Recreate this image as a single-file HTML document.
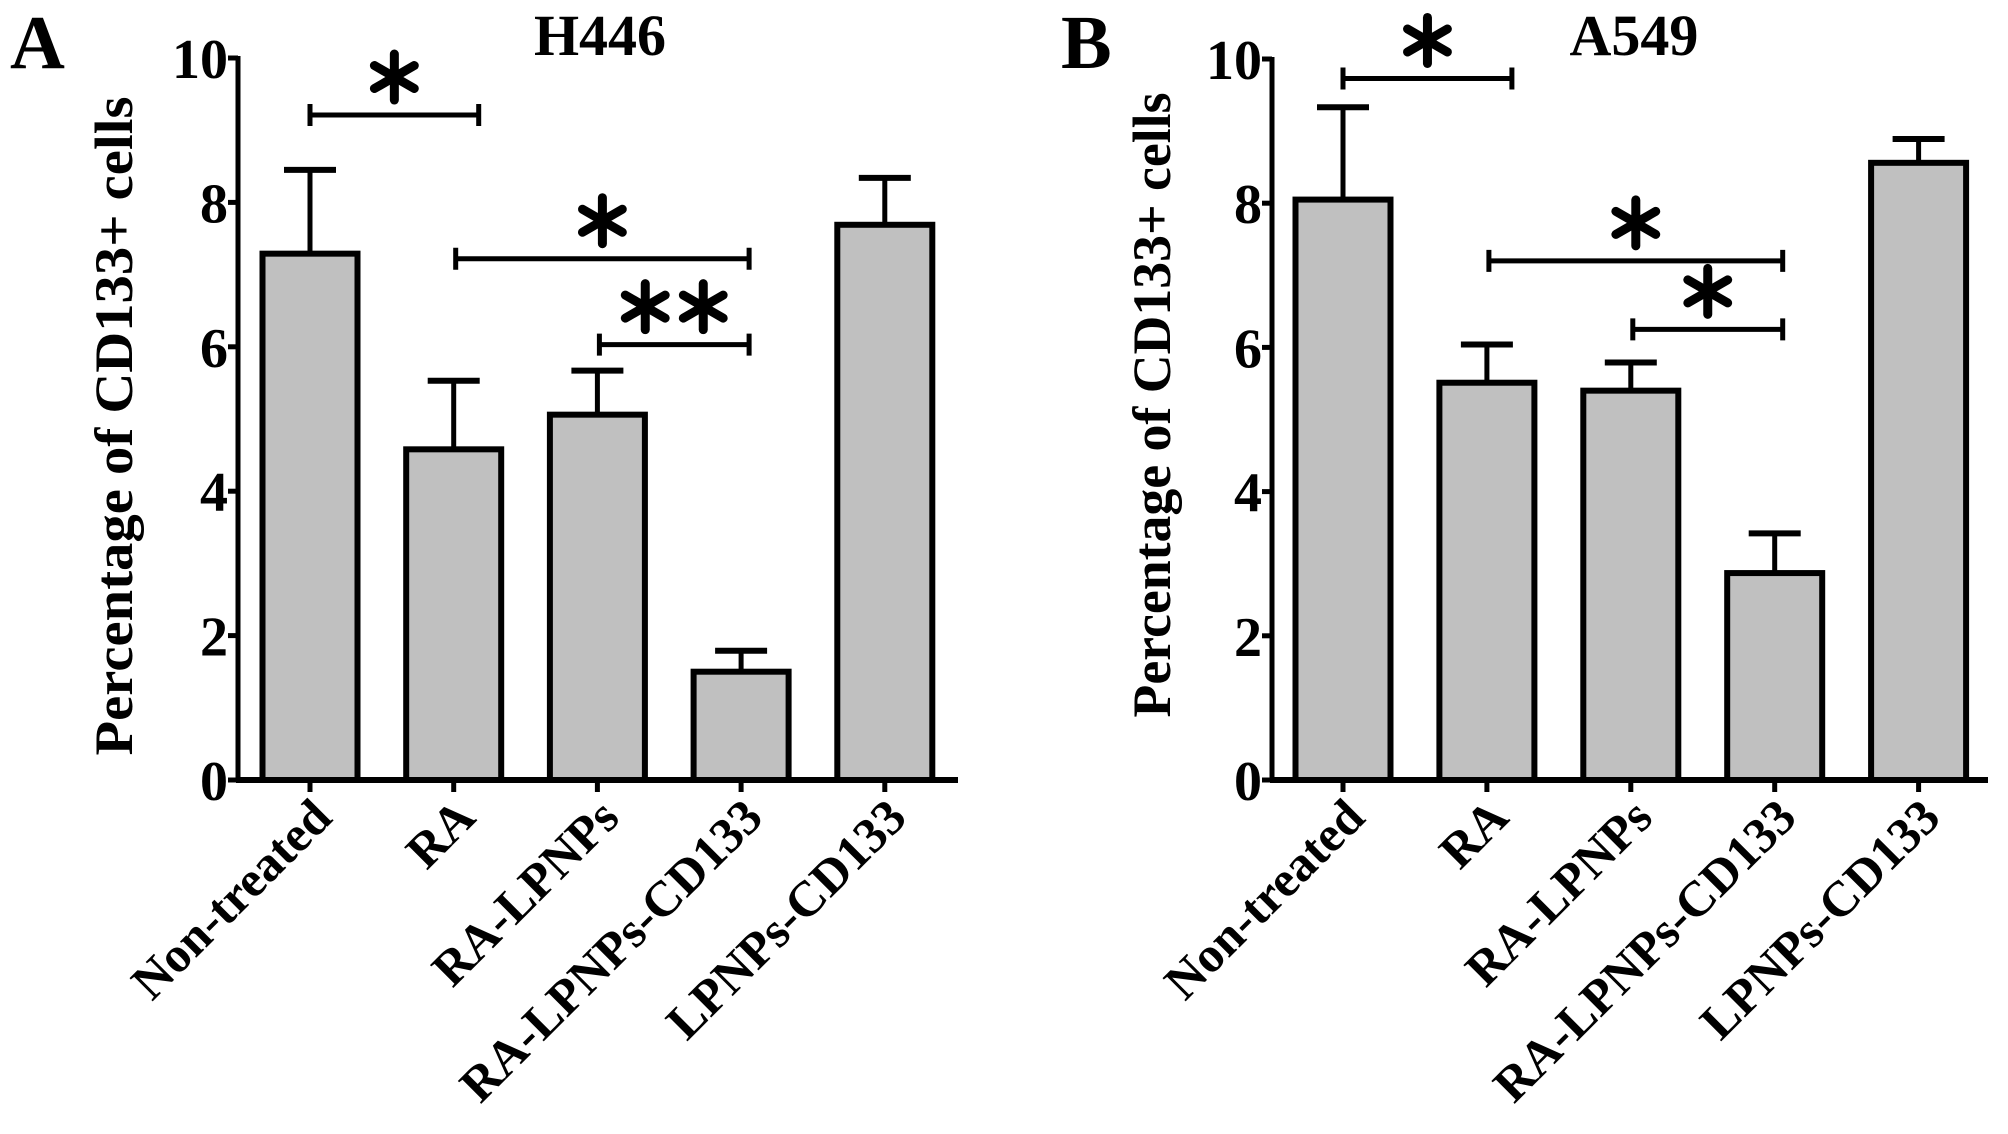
<!DOCTYPE html>
<html><head><meta charset="utf-8"><style>
html,body{margin:0;padding:0;background:#fff}
svg{display:block}
text{font-family:"Liberation Serif",serif;font-weight:bold;fill:#000}
</style></head><body>
<svg id="chart" width="2008" height="1134" viewBox="0 0 2008 1134"></svg>
<script>
const categories = ["Non-treated","RA","RA-LPNPs","RA-LPNPs-CD133","LPNPs-CD133"];
const valuesA = [7.29, 4.58, 5.06, 1.50, 7.69];
const errorsA = [8.45, 5.53, 5.67, 1.79, 8.34];
const valuesB = [8.05, 5.51, 5.40, 2.87, 8.56];
const errorsB = [9.33, 6.04, 5.79, 3.42, 8.89];
const yTicks = [0, 2, 4, 6, 8, 10];
const yTickLabels = ["0","2","4","6","8","10"];
// significance brackets: [from category idx, to category idx, y value, star count]
const sigA = [[0,1,9.21,1],[1,3,7.22,1],[2,3,6.03,2]];
const sigB = [[0,1,9.73,1],[1,3,7.20,1],[2,3,6.25,1]];

const NS = "http://www.w3.org/2000/svg";
const svg = document.getElementById("chart");
function el(tag, attrs, parent){
  const e = document.createElementNS(NS, tag);
  for (const k in attrs) e.setAttribute(k, attrs[k]);
  (parent||svg).appendChild(e);
  return e;
}

function panel(cfg){
  const g = el("g", {});
  
  
  const y = v => cfg.y0 - v * (cfg.y0 - cfg.y10) / 10;
  const x = i => cfg.x0 + i * cfg.step;
  const bw = 95;
  cfg.values.forEach((v,i)=>{
    const eb = el("line", {x1:x(i), x2:x(i), y1:y(v), y2:y(cfg.errors[i]), stroke:"#000","stroke-width":5}, g);
    
    
    const cap = el("line", {x1:x(i)-26, x2:x(i)+26, y1:y(cfg.errors[i]), y2:y(cfg.errors[i]), stroke:"#000","stroke-width":6}, g);
    
    
    const r = el("rect", {x:x(i)-bw/2, y:y(v), width:bw, height:y(0)-y(v), fill:"#c0c0c0", stroke:"#000","stroke-width":6}, g);
    
    
  });
  const ya = el("line", {x1:cfg.ax, x2:cfg.ax, y1:y(10)-2, y2:y(0)+2, stroke:"#000","stroke-width":5}, g);
  
  
  const xa = el("line", {x1:cfg.ax-2, x2:cfg.axEnd, y1:y(0), y2:y(0), stroke:"#000","stroke-width":6}, g);
  
  
  yTicks.forEach((t,k)=>{
    el("line", {x1:cfg.ax-10, x2:cfg.ax, y1:y(t), y2:y(t), stroke:"#000","stroke-width":5}, g);
    const tl = el("text", {x:cfg.ax-10, y:y(t)+20, "text-anchor":"end","font-size":56}, g);
    tl.textContent = yTickLabels[k];
    
    
  });
  categories.forEach((c,i)=>{
    el("line", {x1:x(i), x2:x(i), y1:y(0), y2:y(0)+12, stroke:"#000","stroke-width":5}, g);
    const lx = x(i)+24, ly = y(0)+40;
    const t = el("text", {x:lx, y:ly, "text-anchor":"end","font-size":50, transform:`rotate(-45 ${lx} ${ly})`}, g);
    t.textContent = c;
    
    
  });
  cfg.sig.forEach((s,k)=>{
    const x1 = x(s[0]) + (k===0 ? 0 : 2), x2 = x(s[1]) + (k===0 ? 25 : 8);
    const yy = y(s[2]);
    const b = el("path", {d:`M${x1},${yy-11}V${yy+11}M${x1},${yy}H${x2}M${x2},${yy-11}V${yy+11}`, stroke:"#000","stroke-width":5, fill:"none"}, g);
    
    
    const cx = (x1+x2)/2, cy = yy - 38;
    for (let n=0;n<s[3];n++){
      const sx = s[3]===1 ? cx : cx - 29 + n*58;
      const st = el("g", {}, g);
      
      
      for (let a=0;a<3;a++){
        const ang = Math.PI/2 + a*Math.PI/3;
        const dx = Math.cos(ang)*23, dy = Math.sin(ang)*23;
        el("line", {x1:sx-dx, y1:cy-dy, x2:sx+dx, y2:cy+dy, stroke:"#000","stroke-width":9,"stroke-linecap":"round"}, st);
      }
    }
  });
  const tt = el("text", {x:cfg.titleX, y:55, "text-anchor":"middle","font-size":58}, g);
  tt.textContent = cfg.title;
  
  
  const pl = el("text", {x:cfg.letterX, y:68, "font-size":76}, g);
  pl.textContent = cfg.letter;
  
  
  const yt = el("text", {x:0, y:0, "text-anchor":"middle","font-size":54, textLength:cfg.ytLen, lengthAdjust:"spacingAndGlyphs",
     transform:`translate(${cfg.ytX},${cfg.ytY}) rotate(-90)`}, g);
  yt.textContent = cfg.ytText;
  
  
}

panel({name:"panel-a-h446", values:valuesA, errors:errorsA, sig:sigA, x0:310, step:143.7, ax:238, axEnd:958,
  y0:780, y10:58, title:"H446", titleX:600, letter:"A", letterX:10, ytX:132, ytY:426, ytLen:659,
  ytText:"Percentage of CD133+ cells"});
panel({name:"panel-b-a549", values:valuesB, errors:errorsB, sig:sigB, x0:1343, step:143.9, ax:1272, axEnd:1988,
  y0:780, y10:59, title:"A549", titleX:1634, letter:"B", letterX:1061, ytX:1170, ytY:405, ytLen:625,
  ytText:"Percentage  of CD133+ cells"});
</script>
</body></html>
